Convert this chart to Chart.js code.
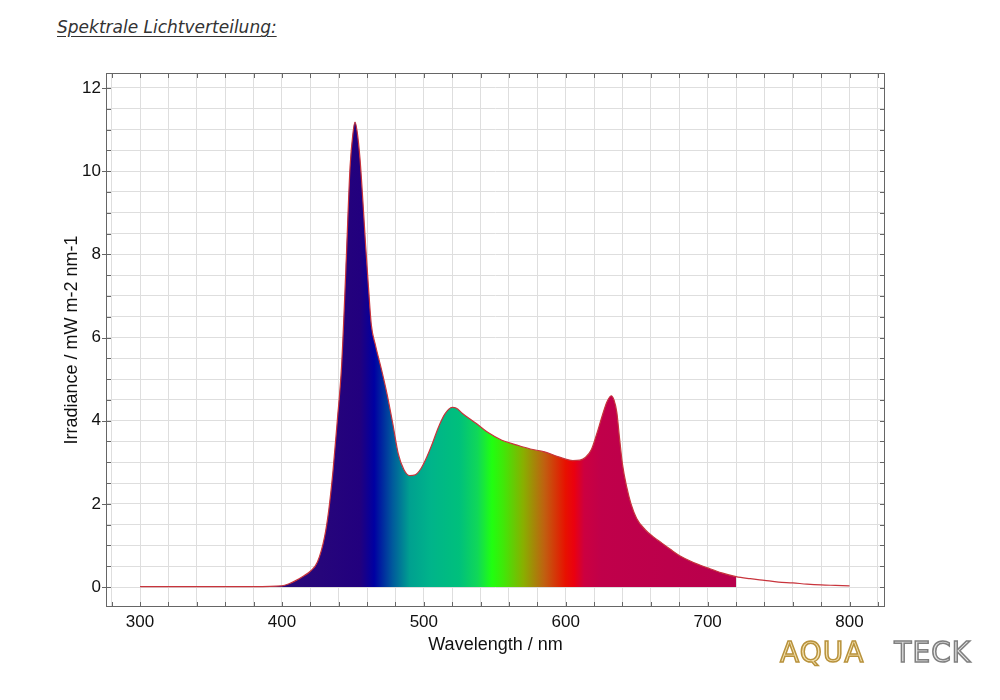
<!DOCTYPE html>
<html>
<head>
<meta charset="utf-8">
<script src="https://cdn.jsdelivr.net/npm/chart.js@4"></script>
<style>
  body { margin: 0; background: #fff; }
  .chartBox { position: absolute; left: 0; top: 0; width: 1000px; height: 700px; }
  .pageTitle {
    position: absolute; left: 57px; top: 17px;
    font: italic 17px "DejaVu Sans", sans-serif; color: #333;
    text-decoration: underline; text-underline-offset: 3px;
  }
  .logo { position: absolute; left: 780px; top: 636px; font: 28px "DejaVu Sans", sans-serif; letter-spacing: 1px; }
  .logo .aqua { color: #f4e2b0; -webkit-text-stroke: 1.5px #b8923c; }
  .logo .teck { color: #e4e4e4; -webkit-text-stroke: 1.5px #808080; margin-left: 30px; }
</style>
</head>
<body>
<div class="pageTitle">Spektrale Lichtverteilung:</div>
<div class="chartBox"><canvas id="myChart"></canvas></div>
<div class="logo"><span class="aqua">AQUA</span><span class="teck">TECK</span></div>
<script>
// wavelength (nm) and measured irradiance (mW m-2 nm-1)
const wavelengths = [300, 320, 340, 360, 380, 400, 405, 410, 415, 420, 425, 430, 433, 436, 439, 442, 445, 448, 450, 451.5,
  453, 455, 457, 459, 461, 463, 466, 470, 474, 478, 482, 486, 490, 494, 498, 502, 506, 510, 515, 520,
  523, 527, 532, 537, 545, 555, 565, 575, 585, 595, 605, 610, 614, 618, 622, 626, 629, 632, 634, 636,
  638, 640, 643, 646, 650, 656, 662, 668, 674, 680, 690, 700, 710, 720, 730, 740, 750, 760, 770, 780, 790, 800];
const irradiance = [0.01, 0.01, 0.01, 0.01, 0.01, 0.03, 0.08, 0.16, 0.26, 0.38, 0.6, 1.2, 1.85, 2.8, 4.0, 5.3, 7.6, 10.1, 10.9, 11.18,
  10.95, 10.3, 9.3, 8.2, 7.2, 6.3, 5.8, 5.25, 4.65, 3.95, 3.2, 2.82, 2.68, 2.7, 2.85, 3.12, 3.45, 3.82, 4.17, 4.32,
  4.3, 4.18, 4.05, 3.93, 3.72, 3.53, 3.42, 3.32, 3.25, 3.13, 3.04, 3.05, 3.12, 3.3, 3.7, 4.15, 4.45, 4.6, 4.5, 4.2,
  3.55, 2.95, 2.4, 2.0, 1.65, 1.38, 1.2, 1.05, 0.9, 0.76, 0.59, 0.46, 0.34, 0.25, 0.2, 0.16, 0.12, 0.1, 0.07, 0.05, 0.04, 0.03];
const fillEnd = 720;
const xTickLabels = [300, 400, 500, 600, 700, 800];
const yTickLabels = [0, 2, 4, 6, 8, 10, 12];

// spectrum colours for the filled area
const spectrumStops = [
  [400, '#2a0a78'], [455, '#22007e'], [465, '#0000a2'], [478, '#005a9c'], [490, '#00a090'],
  [505, '#00b48a'], [525, '#00c07c'], [538, '#10d858'], [548, '#20ff10'], [556, '#40e808'],
  [570, '#88b000'], [585, '#c06010'], [600, '#e81000'], [606, '#ea0010'], [613, '#cc0040'],
  [625, '#c0004a'], [720, '#b8004c']
];

const linePoints = wavelengths.map((w, i) => ({ x: w, y: irradiance[i] }));
const fillPoints = linePoints.filter(p => p.x <= fillEnd);

function spectrumGradient(context) {
  const chart = context.chart;
  const { ctx, chartArea, scales } = chart;
  if (!chartArea) return '#22007e';
  const x0 = scales.x.getPixelForValue(300);
  const x1 = scales.x.getPixelForValue(800);
  const g = ctx.createLinearGradient(x0, 0, x1, 0);
  spectrumStops.forEach(([nm, col]) => {
    const px = scales.x.getPixelForValue(nm);
    g.addColorStop(Math.min(1, Math.max(0, (px - x0) / (x1 - x0))), col);
  });
  return g;
}

// frame around plot with small inward ticks
const framePlugin = {
  id: 'frame',
  afterDraw(chart) {
    const { ctx, chartArea: a, scales } = chart;
    ctx.save();
    ctx.strokeStyle = '#666';
    ctx.lineWidth = 1;
    ctx.strokeRect(a.left + 0.5, a.top + 0.5, a.right - a.left - 1, a.bottom - a.top - 1);
    ctx.beginPath();
    scales.x.ticks.forEach(t => {
      const px = Math.round(scales.x.getPixelForValue(t.value)) + 0.5;
      ctx.moveTo(px, a.bottom); ctx.lineTo(px, a.bottom - 5);
      ctx.moveTo(px, a.top); ctx.lineTo(px, a.top + 5);
    });
    scales.y.ticks.forEach(t => {
      const py = Math.round(scales.y.getPixelForValue(t.value)) + 0.5;
      const major = yTickLabels.includes(t.value);
      ctx.moveTo(a.left - (major ? 4 : 0), py); ctx.lineTo(a.left + 5, py);
      ctx.moveTo(a.right, py); ctx.lineTo(a.right - 5, py);
    });
    ctx.stroke();
    ctx.restore();
  }
};

const config = {
  type: 'line',
  data: {
    datasets: [{
      label: 'line',
      data: linePoints,
      borderColor: '#c8343c',
      borderWidth: 1.2,
      pointRadius: 0,
      fill: false,
      cubicInterpolationMode: 'monotone'
    }, {
      label: 'spectrum',
      data: fillPoints,
      borderWidth: 0,
      borderColor: 'rgba(0,0,0,0)',
      backgroundColor: spectrumGradient,
      pointRadius: 0,
      fill: 'origin',
      cubicInterpolationMode: 'monotone'
    }]
  },
  options: {
    responsive: true,
    maintainAspectRatio: false,
    animation: false,
    layout: { padding: { left: 0, top: 73, right: 115, bottom: 0 } },
    plugins: {
      legend: { display: false },
      tooltip: { enabled: false }
    },
    scales: {
      x: {
        type: 'linear',
        min: 276,
        max: 825,
        afterBuildTicks: scale => {
          const t = [];
          for (let v = 280; v <= 820; v += 20) t.push({ value: v });
          scale.ticks = t;
        },
        afterFit: scale => { scale.height = 93; },
        grid: { color: '#dedede', drawTicks: false },
        border: { display: false },
        ticks: {
          padding: 5,
          autoSkip: false,
          maxRotation: 0,
          color: '#111',
          font: { family: 'Liberation Sans, Arial, sans-serif', size: 17 },
          callback: v => xTickLabels.includes(v) ? String(v) : ''
        },
        title: {
          display: true,
          text: 'Wavelength / nm',
          color: '#111',
          font: { family: 'Liberation Sans, Arial, sans-serif', size: 18 },
          padding: { top: 0, bottom: 44 }
        }
      },
      y: {
        min: -0.48,
        max: 12.36,
        afterBuildTicks: scale => {
          const t = [];
          for (let v = 0; v <= 12; v += 0.5) t.push({ value: v });
          scale.ticks = t;
        },
        afterFit: scale => { scale.width = 106; },
        grid: { color: '#dedede', drawTicks: false },
        border: { display: false },
        ticks: {
          padding: 5,
          autoSkip: false,
          color: '#111',
          font: { family: 'Liberation Sans, Arial, sans-serif', size: 17 },
          callback: v => yTickLabels.includes(v) ? String(v) : ''
        },
        title: {
          display: true,
          text: 'Irradiance / mW m-2 nm-1',
          color: '#111',
          font: { family: 'Liberation Sans, Arial, sans-serif', size: 18 },
          padding: { top: 61, bottom: 0 }
        }
      }
    }
  },
  plugins: [framePlugin]
};

const myChart = new Chart(document.getElementById('myChart'), config);
</script>
</body>
</html>
